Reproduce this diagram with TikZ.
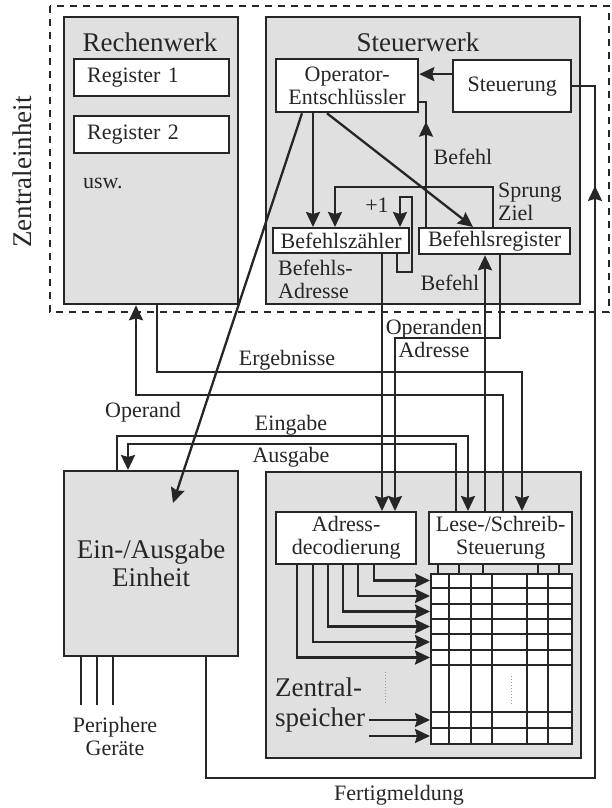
\documentclass[tikz,border=0pt]{standalone}
\usepackage{fontspec}
\setmainfont{Liberation Serif}
\usetikzlibrary{arrows.meta,decorations.markings}
\newcommand{\diaglabel}{\fontsize{22}{23}\selectfont}
\newcommand{\diagtitle}{\fontsize{27}{28}\selectfont}

\begin{document}
\begin{tikzpicture}[x=1pt, y=-1pt, line width=2.3pt, color=black!85,
unitbox/.style={rectangle, draw, fill=black!12, anchor=north west, inner sep=0pt},
whitebox/.style={rectangle, draw, fill=white, anchor=north west, inner sep=1pt, align=center, font=\diaglabel},
title/.style={font=\diagtitle, inner sep=0pt},
txt/.style={font=\diaglabel, inner sep=0pt},
conn/.style={-{Stealth[length=15pt,width=14pt,inset=2pt]}},
arrowat/.style={postaction={decorate}, decoration={markings, mark=at position #1 with {\arrow{Stealth[length=15pt,width=14pt,inset=2pt]}}}},
]

	\useasboundingbox (0,0) rectangle (612,808);
	\fill[white] (0,0) rectangle (612,808);

	% Zentraleinheit
	\draw[dash pattern=on 7pt off 6pt] (50,6) rectangle (609,312);
	\node[title, rotate=90] (ze) at (22,172) {Zentraleinheit};

	% Rechenwerk
	\node[unitbox, minimum width=174pt, minimum height=287pt] (rw) at (63,16) {};
	\node[title] (rwt) at (150,42) {Rechenwerk};
	\node[whitebox, minimum width=155pt, minimum height=37pt, text width=129pt, inner xsep=13pt, align=left] (reg1) at (73,58) {Register 1};
	\node[whitebox, minimum width=155pt, minimum height=37pt, text width=129pt, inner xsep=13pt, align=left] (reg2) at (73,115) {Register 2};
	\node[txt, anchor=west] (usw) at (82,183) {usw.};

	% Steuerwerk
	\node[unitbox, minimum width=314pt, minimum height=287pt] (sw) at (265,16) {};
	\node[title] (swt) at (418,42) {Steuerwerk};
	\node[whitebox, minimum width=142pt, minimum height=53pt] (oe) at (275,58) {Operator-\\Entschlüssler};
	\node[whitebox, minimum width=118pt, minimum height=52pt] (stg) at (452,59) {Steuerung};
	\node[whitebox, minimum width=136pt, minimum height=25pt] (bz) at (272,227) {Befehlszähler};
	\node[whitebox, minimum width=151pt, minimum height=26pt] (br) at (418,227) {Befehlsregister};

	% Ein-/Ausgabe
	\node[unitbox, minimum width=174pt, minimum height=185pt, align=center, font=\diagtitle] (ea) at (63,470) {Ein-/Ausgabe\\Einheit};

	% Zentralspeicher
	\node[unitbox, minimum width=315pt, minimum height=286pt] (mem) at (265,471) {};
	\node[whitebox, minimum width=140pt, minimum height=52pt] (ad) at (275,511) {Adress-\\decodierung};
	\node[whitebox, minimum width=143pt, minimum height=52pt] (ls) at (428,511) {Lese-/Schreib-\\Steuerung};
	\node[whitebox, minimum width=141pt, minimum height=170pt, inner sep=0pt] (grid) at (430,573) {};
	\foreach \gx in {449,471,492,527,548}
		\draw (\gx,573) -- (\gx,743);
	\foreach \gy in {588,604,619,634,650,665,712,728}
		\draw (430,\gy) -- (571,\gy);
	\foreach \tx in {438,459,483,538,559}
		\draw (\tx,0 |- ls.south) -- (\tx,0 |- grid.north);
	\draw[black!40, line width=1pt, dotted] (385,672) -- (385,704);
	\draw[black!40, line width=1pt, dotted] (511,676) -- (511,705);
	\node[anchor=west, align=left, font={\fontsize{27}{30}\selectfont}, inner sep=0pt] (zs) at (274,705) {Zentral-\\speicher};
	\coordinate (zsend) at ([xshift=3pt]zs.east);

	\foreach \ax/\ay in {374/580.5, 358/596, 343/611.5, 328/626.5, 313/642, 297/657.5}
		\draw[conn] (\ax,0 |- ad.south) |- (grid.west |- 0,\ay);
	\draw[conn] (zsend |- 0,720) -- (grid.west |- 0,720);
	\draw[conn] (zsend |- 0,736) -- (grid.west |- 0,736);

	% Steuerwerk connections
	\coordinate (stgin) at ([yshift=12pt]stg.west);
	\draw[conn] (stgin) -- (stgin -| oe.east);
	\draw[arrowat=0.8] (br.north -| 426,0) -- (426,102) -- (oe.east |- 0,102);
	\draw[conn] (br.north -| 493,0) -- (493,187) -| (bz.north -| 335,0);
	\draw[conn] (oe.south -| 313,0) -- (bz.north -| 313,0);
	\draw[conn] (oe.south -| 327,0) -- (br.north -| 473,0);
	\draw[conn] (bz.south -| 397,0) -- (397,272) -- (412,272) -- (412,197) -- (400,197) -- (bz.north -| 400,0);
	\coordinate (eatip) at (173,503);
	\draw[conn] (oe.south -| 302,0) -- (eatip);

	% buses
	\draw[conn] (bz.south -| 382,0) -- (ad.north -| 382,0);
	\draw[conn] (br.south -| 500,0) -- (500,338) -| (ad.north -| 395,0);
	\draw[conn] (ls.north -| 485,0) -- (br.south -| 485,0);
	\draw[conn] (ls.north -| 503,0) |- (136,395) -- (rw.south -| 136,0);
	\draw[conn] (rw.south -| 157,0) |- (522,372) -- (ls.north -| 522,0);
	\draw[conn] (ea.north -| 117,0) |- (468,436) -- (ls.north -| 468,0);
	\draw[conn] (ls.north -| 456,0) |- (128,444) -- (ea.north -| 128,0);
	\draw[arrowat=0.9] (ea.south -| 206,0) -- (206,778) -- (595,778) |- (stg.east);
	\foreach \px in {81,97,113}
		\draw (ea.south -| \px,0) -- (\px,705);

	% labels
	\node[txt] (lbef1) at (463,157) {Befehl};
	\node[txt, align=left, anchor=west] (lsz) at (497,202) {Sprung\\Ziel};
	\node[txt] (lpl) at (377,205) {+1};
	\node[txt, align=left, anchor=west] (lba) at (277,279) {Befehls-\\Adresse};
	\node[txt] (lbef2) at (450,283) {Befehl};
	\node[txt, align=center] (loa) at (434,338) {Operanden\\Adresse};
	\node[txt] (lerg) at (287,360) {Ergebnisse};
	\node[txt] (lopd) at (143,412) {Operand};
	\node[txt] (lein) at (291,425) {Eingabe};
	\node[txt] (laus) at (291,457) {Ausgabe};
	\node[txt, align=center] (lper) at (115,736) {Periphere\\Geräte};
	\node[txt] (lfert) at (399,795) {Fertigmeldung};

\end{tikzpicture}
\end{document}
